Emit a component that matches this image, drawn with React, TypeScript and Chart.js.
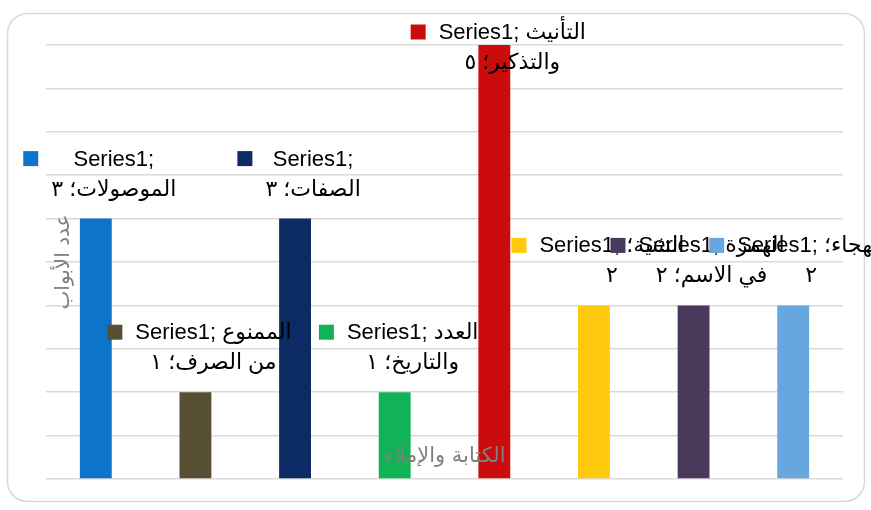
import React, { useEffect, useRef } from "react";
import { Chart, registerables } from "chart.js";

Chart.register(...registerables);

const seriesName = "Series1";
const categories = [
  "الموصولات",
  "الممنوع من الصرف",
  "الصفات",
  "العدد والتاريخ",
  "التأنيث والتذكير",
  "التثنية",
  "الهمزة في الاسم",
  "الهجاء",
];
const values = [3, 1, 3, 1, 5, 2, 2, 2];
const valueLabels = ["٣", "١", "٣", "١", "٥", "٢", "٢", "٢"];
// number of label tokens that fit on the first line of each data label
const firstLineTokens = [1, 2, 1, 2, 2, 2, 2, 2];
const barColors = [
  "#0E74C9",
  "#575034",
  "#0C2A63",
  "#10B355",
  "#CC0C0C",
  "#FFC90E",
  "#493A5C",
  "#68A6E0",
];
const yAxisTitle = "عدد الأبواب";
const xAxisTitle = "الكتابة والإملاء";
const yMin = 0;
const yMax = 5;
const yStep = 0.5;

const LABEL_FONT = "22px 'Liberation Sans', 'DejaVu Sans', sans-serif";

const framePlugin = {
  id: "frame",
  beforeDraw(chart: any) {
    const ctx = chart.ctx;
    ctx.save();
    ctx.fillStyle = "#ffffff";
    ctx.fillRect(0, 0, chart.width, chart.height);
    const x = 7.5, y = 13.5, w = chart.width - 14, h = chart.height - 22, r = 20;
    ctx.beginPath();
    ctx.moveTo(x + r, y);
    ctx.lineTo(x + w - r, y);
    ctx.arcTo(x + w, y, x + w, y + r, r);
    ctx.lineTo(x + w, y + h - r);
    ctx.arcTo(x + w, y + h, x + w - r, y + h, r);
    ctx.lineTo(x + r, y + h);
    ctx.arcTo(x, y + h, x, y + h - r, r);
    ctx.lineTo(x, y + r);
    ctx.arcTo(x, y, x + r, y, r);
    ctx.closePath();
    ctx.strokeStyle = "#d9d9d9";
    ctx.lineWidth = 1.5;
    ctx.stroke();
    ctx.restore();
  },
};

const titlesPlugin = {
  id: "titles",
  afterDatasetsDraw(chart: any) {
    const { ctx, chartArea } = chart;
    ctx.save();
    ctx.fillStyle = "#7f7f7f";
    ctx.font = "21px 'DejaVu Sans', sans-serif";
    ctx.textAlign = "center";
    ctx.textBaseline = "middle";
    ctx.fillText(xAxisTitle, (chartArea.left + chartArea.right) / 2, chartArea.bottom - 22);
    ctx.font = "20px 'DejaVu Sans', sans-serif";
    ctx.translate(chartArea.left + 18, (chartArea.top + chartArea.bottom) / 2);
    ctx.rotate(-Math.PI / 2);
    ctx.fillText(yAxisTitle, 0, 0);
    ctx.restore();
  },
};

const dataLabelPlugin = {
  id: "dataLabels",
  afterDatasetsDraw(chart: any) {
    const { ctx, chartArea } = chart;
    const meta = chart.getDatasetMeta(0);
    ctx.save();
    ctx.font = LABEL_FONT;
    ctx.textBaseline = "middle";
    ctx.textAlign = "center";
    const sq = 15;
    const gap = 13;
    meta.data.forEach((bar: any, i: number) => {
      const catWords = categories[i].split(" ");
      catWords[catWords.length - 1] = catWords[catWords.length - 1] + "؛";
      const tokens = [seriesName + ";", ...catWords, valueLabels[i]];
      const n = firstLineTokens[i];
      const line1 = tokens.slice(0, n).join(" ");
      const line2 = tokens.slice(n).join(" ");
      const w1 = ctx.measureText(line1).width;
      const w2 = ctx.measureText(line2).width;
      const textW = Math.max(w1, w2);
      const boxW = sq + gap + textW;
      const boxLeft = bar.x + 4 - boxW / 2;
      const textCx = boxLeft + sq + gap + textW / 2;
      let y1 = bar.y - 59;
      if (y1 < chartArea.top - 12) y1 = chartArea.top - 12;
      const y2 = y1 + 30;
      ctx.fillStyle = barColors[i];
      ctx.fillRect(boxLeft, y1 - sq / 2 - 1, sq, sq);
      ctx.fillStyle = "#000000";
      ctx.fillText(line1, textCx, y1);
      ctx.fillText(line2, textCx, y2);
    });
    ctx.restore();
  },
};

export default function App() {
  const canvasRef = useRef<HTMLCanvasElement | null>(null);
  useEffect(() => {
    if (!canvasRef.current) return;
    const chart = new Chart(canvasRef.current, {
      type: "bar",
      data: {
        labels: categories,
        datasets: [
          {
            label: seriesName,
            data: values,
            backgroundColor: barColors,
            borderWidth: 0,
            categoryPercentage: 1,
            barPercentage: 0.32,
          },
        ],
      },
      options: {
        responsive: false,
        animation: false,
        maintainAspectRatio: false,
        layout: { padding: { left: 46, right: 28, top: 45, bottom: 31 } },
        plugins: {
          legend: { display: false },
          tooltip: { enabled: false },
          title: { display: false },
        },
        scales: {
          x: {
            ticks: { display: false },
            grid: { display: false, drawTicks: false },
            border: { display: false },
          },
          y: {
            min: yMin,
            max: yMax,
            ticks: { display: false, stepSize: yStep },
            grid: { color: "#d9d9d9", lineWidth: 1.5, drawTicks: false },
            border: { display: false },
          },
        },
      },
      plugins: [framePlugin, titlesPlugin, dataLabelPlugin],
    });
    return () => chart.destroy();
  }, []);
  return (
    <div style={{ position: "fixed", left: 0, top: 0, width: 871, height: 510, background: "#fff" }}>
      <canvas ref={canvasRef} width={871} height={510} style={{ display: "block" }} />
    </div>
  );
}
